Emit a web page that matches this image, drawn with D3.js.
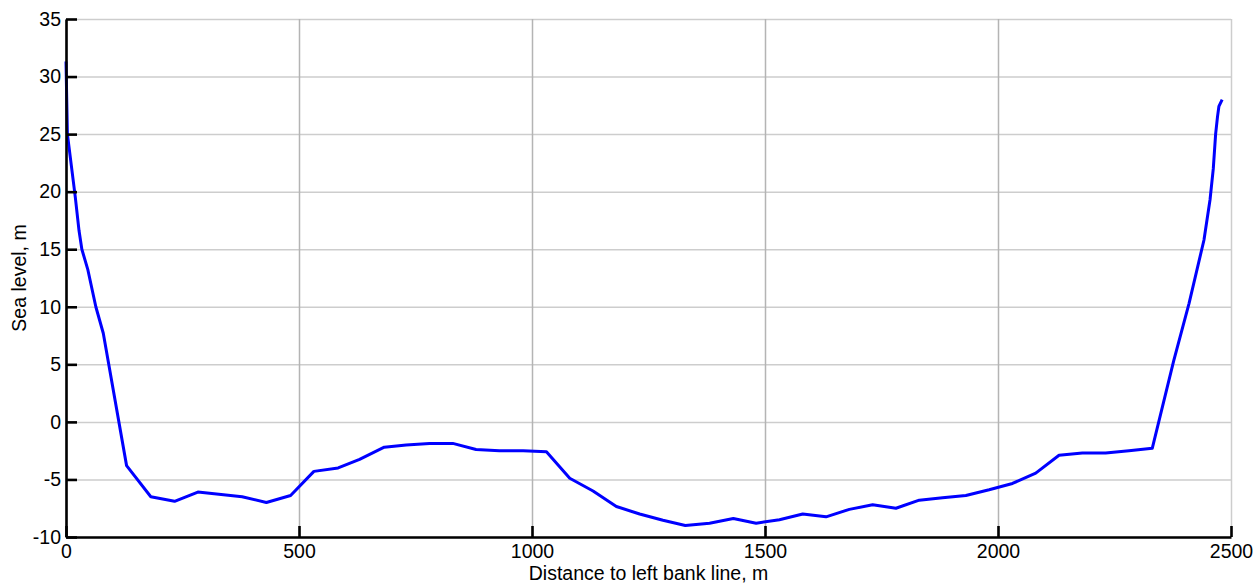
<!DOCTYPE html>
<html>
<head>
<meta charset="utf-8">
<script src="https://cdn.jsdelivr.net/npm/d3@7"></script>
<style>
  body { margin: 0; background: #fff; }
  text { font-family: "Liberation Sans", Arial, sans-serif; }
</style>
</head>
<body>
<div id="chart"></div>
<script>
// cross-section profile
var distance = [0, 3, 20, 28, 34, 47, 64, 80, 130, 182, 233, 283, 333, 378, 430, 482,
    532, 584, 630, 683, 730, 780, 830, 880, 930, 981, 1031, 1081, 1131, 1181, 1231,
    1281, 1329, 1381, 1432, 1481, 1531, 1581, 1631, 1681, 1731, 1781, 1831, 1881,
    1931, 1981, 2031, 2081, 2131, 2181, 2231, 2281, 2331, 2377, 2410, 2442, 2455,
    2462, 2467, 2471, 2474, 2481];
var level = [31.3, 25, 19.5, 16.6, 15, 13.2, 10, 7.7, -3.8, -6.5, -6.9, -6.1, -6.3, -6.5,
    -7.0, -6.4, -4.3, -4.0, -3.26, -2.2, -2.0, -1.87, -1.87, -2.4, -2.5, -2.5, -2.6,
    -4.9, -6.0, -7.35, -8.0, -8.55, -9.0, -8.8, -8.4, -8.8, -8.5, -8.0, -8.25, -7.6,
    -7.2, -7.5, -6.8, -6.6, -6.4, -5.9, -5.35, -4.45, -2.9, -2.7, -2.7, -2.5, -2.3,
    5.3, 10.3, 15.8, 19.3, 22, 25, 26.5, 27.4, 28.0];
var xTicks = [0, 500, 1000, 1500, 2000, 2500];
var yTicks = [-10, -5, 0, 5, 10, 15, 20, 25, 30, 35];

var width = 1256, height = 583;
var mLeft = 66, mRight = 1231, mTop = 19, mBottom = 537;
var fontSize = 19.5;

var svg = d3.select("#chart").append("svg")
    .attr("width", width)
    .attr("height", height);

var x = d3.scaleLinear().domain([0, 2500]).range([mLeft, mRight]);
var y = d3.scaleLinear().domain([-10, 35]).range([mBottom, mTop]);

// grid
svg.append("g")
    .attr("transform", "translate(" + mLeft + ",0)")
    .call(d3.axisLeft(y).tickValues(yTicks).tickSize(-(mRight - mLeft)).tickFormat(""))
    .call(function (g) {
        g.select(".domain").remove();
        g.selectAll("line").attr("stroke", "#cdcdcd").attr("stroke-width", 1.5);
    });

svg.append("g")
    .attr("transform", "translate(0," + mBottom + ")")
    .call(d3.axisBottom(x).tickValues(xTicks).tickSize(-(mBottom - mTop)).tickFormat(""))
    .call(function (g) {
        g.select(".domain").remove();
        g.selectAll("line").attr("stroke", function (d) {
            return d === 2500 ? "#cdcdcd" : "#b4b4b4";
        }).attr("stroke-width", 1.5);
    });

// profile line
var line = d3.line()
    .x(function (d, i) { return x(distance[i]); })
    .y(function (d) { return y(d); });

svg.append("path")
    .datum(level)
    .attr("d", line)
    .attr("fill", "none")
    .attr("stroke", "#0000ff")
    .attr("stroke-width", 3)
    .attr("stroke-linejoin", "round");

// axes
function styleAxis(g) {
    g.attr("font-size", fontSize).attr("font-family", "Liberation Sans, Arial, sans-serif");
    g.select(".domain").attr("stroke", "#000").attr("stroke-width", 2.6);
    g.selectAll("line").attr("stroke", "#000").attr("stroke-width", 2.6);
    g.selectAll("text").attr("fill", "#000");
}

var plain = function (d) { return String(d); };

svg.append("g")
    .attr("transform", "translate(" + mLeft + ",0)")
    .call(d3.axisLeft(y).tickValues(yTicks).tickFormat(plain)
        .tickSizeInner(-11).tickSizeOuter(0).tickPadding(5))
    .call(styleAxis);

svg.append("g")
    .attr("transform", "translate(0," + mBottom + ")")
    .call(d3.axisBottom(x).tickValues(xTicks).tickFormat(plain)
        .tickSizeInner(-11).tickSizeOuter(0).tickPadding(7))
    .call(styleAxis);

// labels
svg.append("text")
    .attr("x", (mLeft + mRight) / 2)
    .attr("y", 580)
    .attr("text-anchor", "middle")
    .attr("font-size", fontSize)
    .text("Distance to left bank line, m");

svg.append("text")
    .attr("transform", "translate(26," + (mTop + mBottom) / 2 + ") rotate(-90)")
    .attr("text-anchor", "middle")
    .attr("font-size", fontSize)
    .text("Sea level, m");
</script>
</body>
</html>
